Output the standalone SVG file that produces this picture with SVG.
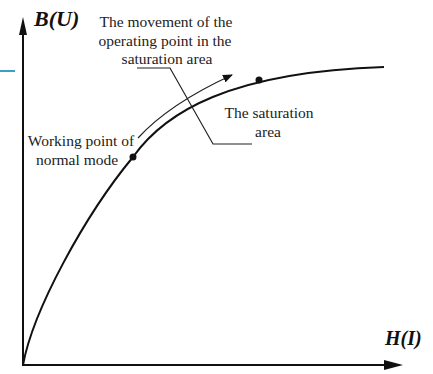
<svg xmlns="http://www.w3.org/2000/svg" width="433" height="374" viewBox="0 0 433 374">
<style>
.t{font-family:"Liberation Serif","Times New Roman",serif;font-size:15.5px;fill:#222}
.ax{font-family:"Liberation Serif","Times New Roman",serif;font-size:20px;font-weight:bold;font-style:italic;fill:#111}
.ln{fill:none;stroke:#111;stroke-width:2}
.thin{fill:none;stroke:#222;stroke-width:1.2}
</style>
<defs>
<marker id="ah" markerWidth="10" markerHeight="8" refX="9" refY="4" orient="auto" markerUnits="userSpaceOnUse"><path d="M0,0 L10,4 L0,8 Z" fill="#111"/></marker>
</defs>
<rect width="433" height="374" fill="#fff"/>
<line x1="0" y1="71" x2="15" y2="71" stroke="#3a9fc0" stroke-width="2"/>
<g id="axes">
<line class="ln" x1="23" y1="366" x2="23" y2="34"/>
<path d="M23,17 L19,35 L27,35 Z" fill="#111"/>
<line class="ln" x1="22" y1="365" x2="384" y2="365"/>
<path d="M403,365 L384,360 L384,370 Z" fill="#111"/>
<text class="ax" x="34" y="26" style="font-size:22px">B(U)</text>
<text class="ax" x="385" y="345">H(I)</text>
</g>
<g id="curve">
<path class="ln" d="M23,365 C33,310 85,215 133,157 C165,112 230,72 384,67"/>
<circle cx="133" cy="157" r="3.5" fill="#111"/>
<circle cx="259" cy="80" r="3.5" fill="#111"/>
</g>
<g id="connectors">
<path class="thin" d="M138,138 C160,114 195,92 232,75" marker-end="url(#ah)"/>
<polyline class="thin" points="137,68 170,68 213,144 252,144"/>
</g>
<g id="label-movement">
<text class="t" text-anchor="middle" x="166" y="27">The movement of the</text>
<text class="t" text-anchor="middle" x="165" y="46">operating point in the</text>
<text class="t" text-anchor="middle" x="167" y="64">saturation area</text>
</g>
<g id="label-saturation">
<text class="t" text-anchor="middle" x="269" y="118">The saturation</text>
<text class="t" text-anchor="middle" x="268" y="137">area</text>
</g>
<g id="label-working">
<text class="t" text-anchor="middle" x="81" y="146">Working point of</text>
<text class="t" text-anchor="middle" x="77" y="165">normal mode</text>
</g>
</svg>
